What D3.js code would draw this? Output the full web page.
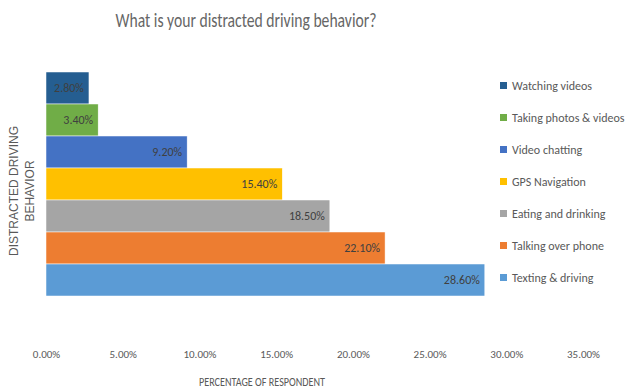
<!DOCTYPE html>
<html>
<head>
<meta charset="utf-8">
<script src="https://cdn.jsdelivr.net/npm/d3@7"></script>
<style>
  body { margin: 0; background: #fff; }
  svg text { font-family: Carlito, Lato, "Open Sans", sans-serif; }
</style>
</head>
<body>
<svg id="canvas" width="627" height="389"></svg>
<script>
// chart data, top to bottom
let categories = ['Watching videos', 'Taking photos & videos', 'Video chatting', 'GPS Navigation',
  'Eating and drinking', 'Talking over phone', 'Texting & driving']
let values = [2.8, 3.4, 9.2, 15.4, 18.5, 22.1, 28.6]
let colors = ['#255E91', '#70AD47', '#4472C4', '#FFC000', '#A5A5A5', '#ED7D31', '#5B9BD5']
let ticks = [0, 5, 10, 15, 20, 25, 30, 35]

let canvas = d3.select('#canvas')

let x = d3.scaleLinear().domain([0, 35]).range([46, 583])
let y = d3.scaleBand().domain(categories).range([72, 296]).padding(0)

// title
canvas.append('text')
  .attr('x', 246).attr('y', 27)
  .attr('text-anchor', 'middle')
  .attr('font-size', 19.5)
  .attr('textLength', 261)
  .attr('lengthAdjust', 'spacingAndGlyphs')
  .attr('fill', '#666')
  .text('What is your distracted driving behavior?')

// bars
canvas.selectAll('rect.bar')
  .data(values)
  .enter()
  .append('rect')
  .attr('class', 'bar')
  .attr('x', x(0))
  .attr('y', (d, i) => y(categories[i]))
  .attr('width', d => x(d) - x(0))
  .attr('height', y.bandwidth())
  .attr('fill', (d, i) => colors[i])
  .attr('stroke', '#fff')
  .attr('stroke-width', 0.5)

// labels inside end
canvas.selectAll('text.lbl')
  .data(values)
  .enter()
  .append('text')
  .attr('class', 'lbl')
  .attr('x', d => x(d) - 5)
  .attr('y', (d, i) => y(categories[i]) + y.bandwidth() / 2 + 4)
  .attr('text-anchor', 'end')
  .attr('font-size', 12)
  .attr('fill', '#404040')
  .text(d => d.toFixed(2) + '%')

// x axis (labels only)
let xAxis = d3.axisBottom(x).tickValues(ticks).tickSize(0).tickFormat(d => d.toFixed(2) + '%')
let gx = canvas.append('g').attr('transform', 'translate(0,347)').call(xAxis)
gx.select('.domain').remove()
gx.selectAll('text').attr('font-size', 11).attr('fill', '#595959')
  .style('font-family', 'Carlito, Lato, "Open Sans", sans-serif')

canvas.append('text')
  .attr('x', 262).attr('y', 386)
  .attr('text-anchor', 'middle')
  .attr('font-size', 11.5)
  .attr('textLength', 126)
  .attr('lengthAdjust', 'spacingAndGlyphs')
  .attr('fill', '#595959')
  .text('PERCENTAGE OF RESPONDENT')

// y axis title
let yt = canvas.append('text')
  .attr('transform', 'translate(18,191) rotate(-90)')
  .attr('text-anchor', 'middle')
  .attr('font-size', 12)
  .attr('fill', '#595959')
  .style('font-family', '"Liberation Sans", Arial, sans-serif')
yt.append('tspan').attr('x', 0).attr('dy', 0).text('DISTRACTED DRIVING')
yt.append('tspan').attr('x', 0).attr('dy', 16).text('BEHAVIOR')

// legend
let leg = canvas.selectAll('g.leg')
  .data(categories)
  .enter()
  .append('g')
  .attr('class', 'leg')
  .attr('transform', (d, i) => 'translate(500,' + (y(d) + y.bandwidth() / 2 - 2) + ')')
leg.append('rect')
  .attr('x', 0).attr('y', -4).attr('width', 7).attr('height', 7)
  .attr('fill', (d, i) => colors[i])
leg.append('text')
  .attr('x', 12).attr('y', 4)
  .attr('font-size', 12)
  .attr('fill', '#595959')
  .text(d => d)
</script>
</body>
</html>
